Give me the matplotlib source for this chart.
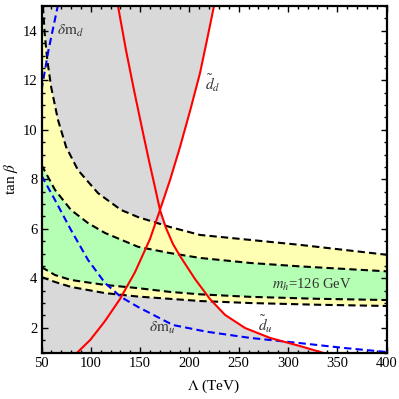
import numpy as np
import matplotlib

matplotlib.use("Agg")
import matplotlib.pyplot as plt
from matplotlib.ticker import MultipleLocator

plt.rcParams["font.family"] = ["Liberation Serif", "DejaVu Serif"]
plt.rcParams["mathtext.fontset"] = "stix"

# axis ranges
XLIM = (50, 400)
YLIM = (1, 15)

# m_h band edges (black dashed)
a_x = [51.5, 53.2, 55.9, 59.9, 66.7, 75, 87, 107.3, 130.7, 148, 180.4, 210.8, 261.5, 312, 345, 400]
a_y = [15.0, 13.9, 12.8, 11.7, 10.4, 9.3, 8.37, 7.44, 6.76, 6.47, 6.07, 5.75, 5.55, 5.35, 5.2, 4.95]
b_x = [50, 63.7, 79.9, 97.2, 114.4, 148, 180, 211, 261, 312, 400]
b_y = [8.58, 7.57, 6.76, 6.23, 5.83, 5.27, 5.02, 4.82, 4.62, 4.48, 4.28]
c_x = [50, 63.7, 79.9, 114.4, 148, 180, 211, 261, 330, 400]
c_y = [4.45, 4.13, 3.93, 3.73, 3.6, 3.45, 3.35, 3.25, 3.17, 3.12]
d_x = [50, 63.7, 79.9, 114.4, 148, 211, 261, 330, 400]
d_y = [4.05, 3.85, 3.65, 3.40, 3.26, 3.08, 3.0, 2.93, 2.88]

# squark constraints (red)
du_x = [127.6, 135.7, 143.8, 153.0, 159.1, 164.6, 170.2, 176.3, 183.4, 190.5, 205.7,
        220.9, 236.2, 256.5, 281.8, 312.3, 334.5]
du_y = [15.0, 13.22, 11.61, 9.87, 8.74, 7.77, 6.76, 6.03, 5.38, 4.90, 3.97,
        3.16, 2.52, 1.99, 1.59, 1.26, 1.0]
dd_x = [86.3, 99.5, 114.4, 129.6, 144.9, 160.1, 170.2, 180.4, 190.5, 200.7, 210.8, 217.9, 225.0]
dd_y = [1.0, 1.51, 2.27, 3.16, 4.25, 5.59, 6.76, 7.97, 9.30, 10.76, 12.29, 13.63, 15.0]

# mass splitting contours (blue)
dmd_x = [50, 57, 66.5]
dmd_y = [11.6, 13.2, 15.0]
dmu_x = [50, 63.7, 79.9, 97.2, 114.4, 130.7, 147.9, 183.4, 217.6, 261.5, 312.2, 357.9, 400]
dmu_y = [8.15, 7.16, 5.95, 4.74, 3.81, 3.24, 2.84, 2.11, 1.84, 1.59, 1.38, 1.18, 1.02]

C_GRAY = "#d9d9d9"
C_YEL = "#ffffb4"
C_GRN = "#b4ffb4"

fig = plt.figure(figsize=(3.99, 3.99), dpi=100)
ax = fig.add_axes([41.5 / 399, 1 - 352.5 / 399, 345 / 399, 346.5 / 399])
ax.set_xlim(*XLIM)
ax.set_ylim(*YLIM)

# excluded regions: left of the red curves
ax.fill(np.r_[XLIM[0], dd_x, XLIM[0]], np.r_[YLIM[0], dd_y, YLIM[1]],
        color=C_GRAY, lw=0, zorder=0)
ax.fill(np.r_[XLIM[0], du_x, XLIM[0]], np.r_[YLIM[1], du_y, YLIM[0]],
        color=C_GRAY, lw=0, zorder=0)

# m_h bands
ax.fill(np.r_[XLIM[0], a_x, d_x[::-1]], np.r_[YLIM[1], a_y, d_y[::-1]],
        color=C_YEL, lw=0, zorder=1)
ax.fill(np.r_[b_x, c_x[::-1]], np.r_[b_y, c_y[::-1]],
        color=C_GRN, lw=0, zorder=1)

dash = dict(ls=(0, (3.5, 2)), lw=1.5, zorder=3)
for xs, ys in [(a_x, a_y), (b_x, b_y), (c_x, c_y), (d_x, d_y)]:
    ax.plot(xs, ys, color="black", **dash)

ax.plot(dmd_x, dmd_y, color="#0000ff", **dash)
ax.plot(dmu_x, dmu_y, color="#0000ff", **dash)

ax.plot(du_x, du_y, color="#ff0000", lw=1.5, zorder=4)
ax.plot(dd_x, dd_y, color="#ff0000", lw=1.5, zorder=4)

# labels
ax.text(79, 14.0, r"$\delta\mathrm{m}_d$", fontsize=11, ha="center", va="center", color="#333333", zorder=5)
ax.text(172, 1.98, r"$\delta\mathrm{m}_u$", fontsize=11, ha="center", va="center", color="#333333", zorder=5)
ax.text(224, 11.9, r"$\tilde{d}_d$", fontsize=11, ha="center", va="center", color="#333333", zorder=5)
ax.text(276.7, 2.15, r"$\tilde{d}_u$", fontsize=11, ha="center", va="center", color="#333333", zorder=5)
ax.text(324.4, 3.73, r"$m_h$=126 GeV", fontsize=10.5, ha="center", va="center", color="#333333", zorder=5)

ax.set_xlabel(r"$\Lambda$ (TeV)", fontsize=11, labelpad=6)
ax.set_ylabel(r"tan $\beta$", fontsize=11, labelpad=2)

ax.xaxis.set_major_locator(MultipleLocator(50))
ax.xaxis.set_minor_locator(MultipleLocator(10))
ax.yaxis.set_major_locator(MultipleLocator(2))
ax.yaxis.set_minor_locator(MultipleLocator(0.5))
ax.tick_params(which="both", direction="in", top=True, right=True, labelsize=10.5, width=1)
ax.tick_params(which="major", length=4, pad=3)
ax.tick_params(which="minor", length=2)
for s in ax.spines.values():
    s.set_linewidth(1.6)
    s.set_zorder(6)

fig.savefig("out.png", dpi=100, facecolor="white")
